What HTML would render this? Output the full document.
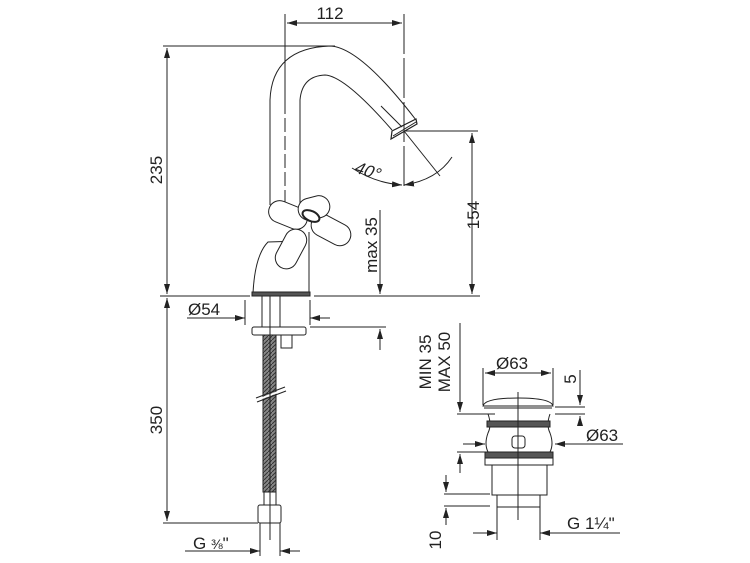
<!DOCTYPE html>
<html><head><meta charset="utf-8"><style>
html,body{margin:0;padding:0;background:#fff}
svg{display:block}
text{font-family:"Liberation Sans",Arial,sans-serif;fill:#222}
</style></head><body>
<svg width="750" height="563" viewBox="0 0 750 563" xmlns="http://www.w3.org/2000/svg">
<defs>
<marker id="a" viewBox="0 0 10 6" refX="10" refY="3" markerWidth="10" markerHeight="6" orient="auto-start-reverse" markerUnits="userSpaceOnUse"><path d="M0,0 L10,3 L0,6 z" fill="#222"/></marker>
<pattern id="h" width="4" height="4" patternUnits="userSpaceOnUse"><rect width="4" height="4" fill="#888"/><path d="M0,4 L4,0" stroke="#333" stroke-width="1"/></pattern>
</defs>
<g fill="none" stroke="#222" stroke-width="1">
<line x1="285" y1="14" x2="285" y2="100"/>
<line x1="285" y1="100" x2="285" y2="205" stroke-dasharray="14,4"/>
<line x1="404" y1="14" x2="404" y2="190" stroke-dasharray="40,4"/>
<line x1="287" y1="23" x2="402" y2="23" marker-start="url(#a)" marker-end="url(#a)"/>
<line x1="163" y1="46" x2="335" y2="46"/>
<line x1="167" y1="48" x2="167" y2="294" marker-start="url(#a)" marker-end="url(#a)"/>
<line x1="160" y1="296" x2="250" y2="296"/>
<line x1="314" y1="296" x2="480" y2="296"/>
<path d="M270,205 L270,100 Q272,48 330,46 Q360,47 416,120"/>
<path d="M300,205 L300,100 Q302,76 325,75 Q345,76 392,130"/>
<path d="M391,139 L392,131 L416,119 L417,124 Z" stroke-width="1.2"/>
<line x1="393" y1="136" x2="416" y2="122"/>
<line x1="381" y1="106" x2="402" y2="127"/>
<line x1="404" y1="131" x2="478" y2="131"/>
<line x1="472" y1="133" x2="472" y2="294" marker-start="url(#a)" marker-end="url(#a)"/>
<line x1="404" y1="131" x2="440" y2="176"/>
<path d="M352,168 Q375,183 402,185" marker-end="url(#a)"/>
<path d="M404,185 Q437,180 452,157" marker-start="url(#a)"/>
<path d="M253,293 Q255,255 268,242 L300,241"/>
<line x1="309" y1="232" x2="309" y2="293"/>
<rect x="252" y="292" width="58" height="4" fill="#555"/>
<g fill="#fff">
<rect x="268" y="204" width="40" height="22" rx="11" transform="rotate(22 288 215)"/>
<rect x="270" y="238" width="42" height="22" rx="11" transform="rotate(-62 291 249)"/>
<rect x="310" y="219" width="42" height="22" rx="11" transform="rotate(28 331 230)"/>
<rect x="298" y="197" width="32" height="22" rx="11" transform="rotate(-15 314 208)"/>
<ellipse cx="311" cy="216" rx="9" ry="5" transform="rotate(25 311 216)" stroke-width="2"/>
</g>
<line x1="380" y1="210" x2="380" y2="294" marker-end="url(#a)"/>
<line x1="380" y1="329" x2="380" y2="350" marker-start="url(#a)"/>
<line x1="310" y1="327" x2="386" y2="327"/>
<rect x="262" y="296" width="18" height="31"/>
<line x1="280" y1="296" x2="280" y2="327"/>
<line x1="245" y1="300" x2="245" y2="325"/>
<line x1="310" y1="300" x2="310" y2="325"/>
<line x1="187" y1="318" x2="245" y2="318" marker-end="url(#a)"/>
<line x1="330" y1="318" x2="310" y2="318" marker-end="url(#a)"/>
<rect x="252" y="327" width="54" height="8" rx="2" fill="#fff"/>
<rect x="281" y="335" width="11" height="13"/>
<rect x="263" y="335" width="13" height="157" fill="url(#h)"/>
<line x1="257" y1="400" x2="286" y2="389" stroke-width="2" stroke="#fff"/>
<line x1="256" y1="398" x2="285" y2="387"/>
<line x1="257" y1="402" x2="286" y2="391"/>
<rect x="264" y="492" width="12" height="13"/>
<rect x="258" y="505" width="23" height="18" rx="2"/>
<line x1="270" y1="296" x2="270" y2="540"/>
<line x1="167" y1="298" x2="167" y2="521" marker-start="url(#a)" marker-end="url(#a)"/>
<line x1="163" y1="523" x2="258" y2="523"/>
<line x1="260" y1="523" x2="260" y2="556"/>
<line x1="280" y1="523" x2="280" y2="556"/>
<line x1="185" y1="551" x2="260" y2="551" marker-end="url(#a)"/>
<line x1="300" y1="551" x2="280" y2="551" marker-end="url(#a)"/>
<line x1="460" y1="323" x2="460" y2="412" marker-end="url(#a)"/>
<line x1="460" y1="454" x2="460" y2="473" marker-start="url(#a)"/>
<line x1="457" y1="414" x2="495" y2="414"/>
<line x1="457" y1="452" x2="490" y2="452"/>
<line x1="483" y1="368" x2="483" y2="405"/>
<line x1="553" y1="368" x2="553" y2="405"/>
<line x1="485" y1="373" x2="551" y2="373" marker-start="url(#a)" marker-end="url(#a)"/>
<path d="M483,406 Q485,398 518,398 Q551,398 553,406 Z"/>
<line x1="484" y1="408" x2="552" y2="408"/>
<line x1="555" y1="407" x2="585" y2="407"/>
<line x1="555" y1="414" x2="585" y2="414"/>
<line x1="580" y1="370" x2="580" y2="405" marker-end="url(#a)"/>
<line x1="580" y1="425" x2="580" y2="416" marker-end="url(#a)"/>
<path d="M488,414 Q492,425 488,433 Q484,444 488,452"/>
<path d="M550,414 Q546,425 550,433 Q554,444 550,452"/>
<rect x="487" y="421" width="63" height="6" fill="#555"/>
<rect x="512" y="436" width="13" height="12" rx="3"/>
<line x1="463" y1="444" x2="485" y2="444" marker-end="url(#a)"/>
<line x1="623" y1="444" x2="555" y2="444" marker-end="url(#a)"/>
<rect x="485" y="452" width="68" height="6" fill="#555"/>
<rect x="485" y="458" width="68" height="7"/>
<rect x="492" y="465" width="55" height="30"/>
<rect x="497" y="495" width="43" height="12"/>
<line x1="497" y1="507" x2="497" y2="540"/>
<line x1="540" y1="507" x2="540" y2="540"/>
<line x1="518" y1="392" x2="518" y2="520"/>
<line x1="444" y1="494" x2="490" y2="494"/>
<line x1="444" y1="506" x2="490" y2="506"/>
<line x1="446" y1="475" x2="446" y2="492" marker-end="url(#a)"/>
<line x1="446" y1="525" x2="446" y2="508" marker-end="url(#a)"/>
<line x1="473" y1="533" x2="497" y2="533" marker-end="url(#a)"/>
<line x1="620" y1="533" x2="540" y2="533" marker-end="url(#a)"/>
</g>
<g font-size="17">
<text x="330" y="19" text-anchor="middle">112</text>
<text transform="translate(162,170) rotate(-90)" text-anchor="middle">235</text>
<text transform="translate(479,215) rotate(-90)" text-anchor="middle">154</text>
<text transform="translate(377,245) rotate(-90)" text-anchor="middle">max 35</text>
<text transform="translate(353,172) rotate(18) skewX(-12)">40°</text>
<text x="188" y="315">Ø54</text>
<text transform="translate(162,420) rotate(-90)" text-anchor="middle">350</text>
<text x="193" y="549">G <tspan font-size="14">⅜</tspan>"</text>
<text transform="translate(431,362) rotate(-90)" text-anchor="middle">MIN 35</text>
<text transform="translate(450,362) rotate(-90)" text-anchor="middle">MAX 50</text>
<text x="496" y="369">Ø63</text>
<text transform="translate(576,379) rotate(-90)" text-anchor="middle">5</text>
<text x="586" y="441">Ø63</text>
<text transform="translate(441,540) rotate(-90)" text-anchor="middle">10</text>
<text x="567" y="529">G 1¼"</text>
</g>
</svg>
</body></html>
